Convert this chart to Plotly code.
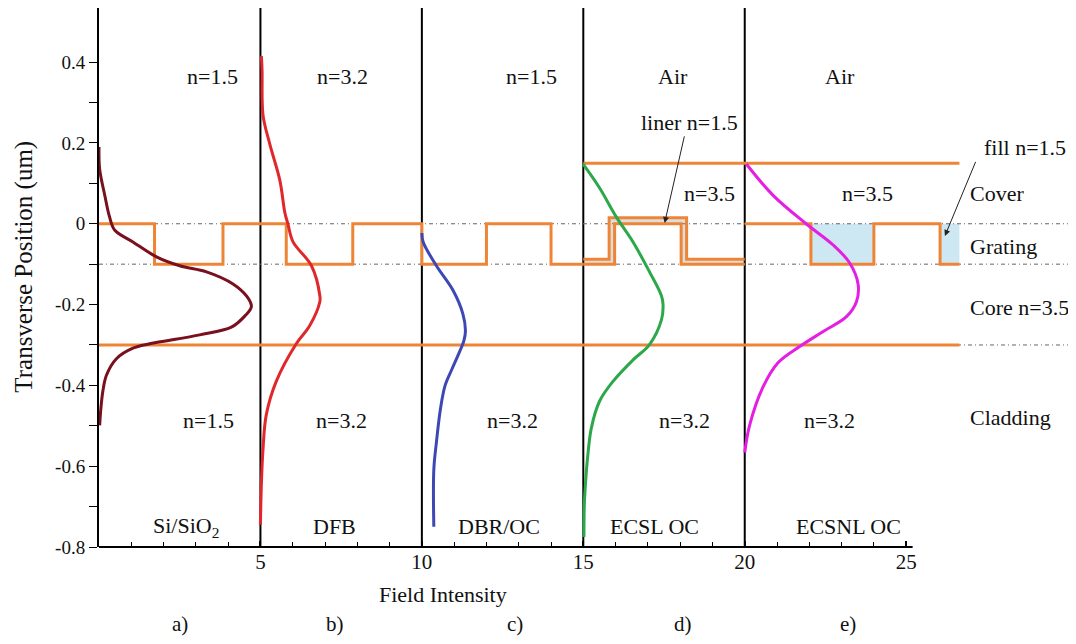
import plotly.graph_objects as go

# ---------------- data ----------------
# field intensity profiles (x = field intensity incl. panel offset, y = transverse position, um)
sisio2_x = [0.0, 0.02, 0.18, 0.33, 0.49, 1.05, 1.78, 2.5, 3.33, 4.15, 4.58, 4.72, 4.52, 4.1, 3.12, 1.57, 1.05, 0.54, 0.23, 0.12, 0.05, 0.02]
sisio2_y = [0.19, 0.135, 0.07, 0.016, -0.016, -0.045, -0.082, -0.104, -0.119, -0.149, -0.18, -0.205, -0.228, -0.256, -0.275, -0.297, -0.308, -0.334, -0.375, -0.414, -0.465, -0.499]

dfb_x = [5.03, 5.05, 5.08, 5.29, 5.6, 5.76, 5.85, 6.01, 6.58, 6.84, 6.84, 6.52, 6.11, 5.49, 5.18, 5.08, 5.03, 5.0]
dfb_y = [0.415, 0.38, 0.269, 0.197, 0.108, 0.026, 0.0, -0.045, -0.104, -0.178, -0.193, -0.253, -0.297, -0.39, -0.473, -0.558, -0.643, -0.745]

dbr_x = [10.0, 10.04, 10.45, 10.96, 11.27, 11.35, 11.3, 11.15, 10.93, 10.72, 10.58, 10.45, 10.37, 10.37]
dbr_y = [-0.023, -0.045, -0.104, -0.164, -0.223, -0.265, -0.29, -0.32, -0.36, -0.4, -0.456, -0.541, -0.609, -0.75]

ecsl_x = [14.99, 15.5, 16.02, 16.54, 17.05, 17.42, 17.47, 17.42, 17.05, 16.54, 15.92, 15.51, 15.25, 15.14, 15.07, 15.03, 15.02]
ecsl_y = [0.148, 0.089, 0.017, -0.045, -0.119, -0.178, -0.2, -0.238, -0.299, -0.337, -0.39, -0.438, -0.505, -0.573, -0.64, -0.7, -0.775]

ecsnl_x = [20.05, 20.87, 21.9, 22.73, 23.25, 23.51, 23.46, 23.15, 22.42, 21.7, 21.03, 20.56, 20.15, 20.0]
ecsnl_y = [0.148, 0.071, 0.0, -0.052, -0.097, -0.149, -0.193, -0.23, -0.267, -0.304, -0.344, -0.405, -0.499, -0.566]

# waveguide structure
panel_dividers = [5, 10, 15, 20]
grating_x = [0, 1.72, 1.72, 3.84, 3.84, 5.8, 5.8, 7.86, 7.86, 10, 10, 12.0, 12.0, 14.0, 14.0, 15]
grating_y = [0, 0, -0.1, -0.1, 0, 0, -0.1, -0.1, 0, 0, -0.1, -0.1, 0, 0, -0.1, -0.1]
ecsnl_grating_x = [20, 22.05, 22.05, 24.0, 24.0, 26.05, 26.05, 26.65]
ecsnl_grating_y = [0, 0, -0.1, -0.1, 0, 0, -0.1, -0.1]
liner_outer_x = [15, 15.8, 15.8, 18.2, 18.2, 20]
liner_outer_y = [-0.088, -0.088, 0.015, 0.015, -0.088, -0.088]
liner_inner_x = [15, 15.97, 15.97, 18.03, 18.03, 20]
liner_inner_y = [-0.1, -0.1, 0, 0, -0.1, -0.1]
fill_spans = [[22.05, 24.0], [26.05, 26.65]]
grating_top = 0.0
grating_bottom = -0.1
cover_x = [15, 26.65]
cover_y = 0.15
core_bottom_x = [0, 26.65]
core_bottom_y = -0.3
guide_levels = [0.0, -0.1, -0.3]

x_range = [0, 30.26]
y_range = [-0.8, 0.534]
x_tick_vals = [5, 10, 15, 20, 25]
x_minor_vals = [1, 2, 3, 4, 6, 7, 8, 9, 11, 12, 13, 14, 16, 17, 18, 19, 21, 22, 23, 24]
y_tick_vals = [-0.8, -0.6, -0.4, -0.2, 0, 0.2, 0.4]
y_tick_text = ["-0.8", "-0.6", "-0.4", "-0.2", "0", "0.2", "0.4"]
y_minor_vals = [-0.7, -0.5, -0.3, -0.1, 0.1, 0.3]

# ---------------- styles ----------------
SERIF = "Liberation Serif, Times New Roman, serif"
ORANGE = "#EE8536"
TXT = "#111111"

fig = go.Figure()

# fills
for x0, x1 in fill_spans:
    fig.add_trace(go.Scatter(x=[x0, x1, x1, x0, x0],
                             y=[grating_top, grating_top, grating_bottom, grating_bottom, grating_top],
                             fill="toself", fillcolor="#CDE8F2", line=dict(width=0),
                             mode="lines", hoverinfo="skip"))
fig.add_trace(go.Scatter(x=liner_outer_x + liner_inner_x[::-1],
                         y=liner_outer_y + liner_inner_y[::-1],
                         fill="toself", fillcolor="#DDDDDD", line=dict(width=0),
                         mode="lines", hoverinfo="skip"))

# panel dividers
for xd in panel_dividers:
    fig.add_trace(go.Scatter(x=[xd, xd], y=y_range, mode="lines",
                             line=dict(color="black", width=2), hoverinfo="skip"))

# guide dashed lines
for lv in guide_levels:
    fig.add_trace(go.Scatter(x=x_range, y=[lv, lv], mode="lines",
                             line=dict(color="#666666", width=1, dash="4px,3px,1px,3px"), hoverinfo="skip"))

# structure lines
fig.add_trace(go.Scatter(x=grating_x, y=grating_y, mode="lines", line=dict(color=ORANGE, width=3)))
fig.add_trace(go.Scatter(x=ecsnl_grating_x, y=ecsnl_grating_y, mode="lines", line=dict(color=ORANGE, width=3)))
fig.add_trace(go.Scatter(x=liner_outer_x, y=liner_outer_y, mode="lines", line=dict(color=ORANGE, width=3)))
fig.add_trace(go.Scatter(x=liner_inner_x, y=liner_inner_y, mode="lines", line=dict(color=ORANGE, width=3)))
fig.add_trace(go.Scatter(x=cover_x, y=[cover_y, cover_y], mode="lines", line=dict(color=ORANGE, width=3)))
fig.add_trace(go.Scatter(x=core_bottom_x, y=[core_bottom_y, core_bottom_y], mode="lines", line=dict(color=ORANGE, width=3)))

# field profiles
curves = [
    (sisio2_x, sisio2_y, "#7A0F1E"),
    (dfb_x, dfb_y, "#E0282C"),
    (dbr_x, dbr_y, "#3D48B5"),
    (ecsl_x, ecsl_y, "#2CA84B"),
    (ecsnl_x, ecsnl_y, "#E41EE2"),
]
for cx, cy, col in curves:
    fig.add_trace(go.Scatter(x=cx, y=cy, mode="lines",
                             line=dict(color=col, width=3, shape="spline", smoothing=1.0)))

# x axis line (only to 25)
fig.add_shape(type="line", xref="x", yref="paper", x0=0, x1=25.2, y0=0, y1=0,
              line=dict(color="black", width=2))

# ---------------- text ----------------
def txt(x, y, s, size=22, xanchor="center", xref="x", yref="y"):
    fig.add_annotation(x=x, y=y, text=s, showarrow=False, xref=xref, yref=yref,
                       xanchor=xanchor, yanchor="middle",
                       font=dict(family=SERIF, size=size, color=TXT))

top_labels = [(3.53, "n=1.5"), (7.55, "n=3.2"), (13.4, "n=1.5"), (17.77, "Air"), (22.94, "Air")]
for x, s in top_labels:
    txt(x, 0.365, s)
bottom_labels = [(3.38, "n=1.5"), (7.5, "n=3.2"), (12.82, "n=3.2"), (18.14, "n=3.2"), (22.63, "n=3.2")]
for x, s in bottom_labels:
    txt(x, -0.486, s)
panel_names = [(2.7, "Si/SiO<sub>2</sub>"), (7.3, "DFB"), (12.4, "DBR/OC"), (17.2, "ECSL OC"), (23.2, "ECSNL OC")]
for x, s in panel_names:
    txt(x, -0.75, s)

txt(18.91, 0.076, "n=3.5")
txt(23.8, 0.076, "n=3.5")
txt(18.3, 0.251, "liner n=1.5")
txt(28.67, 0.188, "fill n=1.5")
for y, s in [(0.076, "Cover"), (-0.056, "Grating"), (-0.208, "Core n=3.5"), (-0.48, "Cladding")]:
    txt(26.93, y, s, xanchor="left")

# arrows
fig.add_annotation(x=17.52, y=0.002, ax=18.14, ay=0.22, xref="x", yref="y", axref="x", ayref="y",
                   text="", showarrow=True, arrowhead=2, arrowsize=1.2, arrowwidth=1, arrowcolor="#222")
fig.add_annotation(x=26.2, y=-0.03, ax=27.17, ay=0.157, xref="x", yref="y", axref="x", ayref="y",
                   text="", showarrow=True, arrowhead=2, arrowsize=1.2, arrowwidth=1, arrowcolor="#222")

# axis titles and panel letters
txt(10.66, -0.089, "Field Intensity", size=22, yref="paper")
for x, s in [(2.5, "a)"), (7.3, "b)"), (12.87, "c)"), (18.1, "d)"), (23.2, "e)")]:
    txt(x, -0.142, s, size=21, yref="paper")
fig.add_annotation(x=-0.0768, y=0.52, xref="paper", yref="paper", text="Transverse Position (um)",
                   showarrow=False, textangle=-90, xanchor="center", yanchor="middle",
                   font=dict(family=SERIF, size=25, color=TXT))

# page has an 8px body margin, so the figure is sized to fit the 1076x644 window without overflow
fig.update_layout(
    width=1068, height=628,
    margin=dict(l=91, r=0, t=0, b=89),
    paper_bgcolor="white", plot_bgcolor="white",
    showlegend=False,
    xaxis=dict(range=x_range, showline=False, showgrid=False, zeroline=False,
               tickmode="array", tickvals=x_tick_vals, ticks="inside", ticklen=6,
               tickwidth=1.5, tickcolor="black",
               minor=dict(tickmode="array", tickvals=x_minor_vals, ticks="inside", ticklen=5,
                          tickwidth=1, tickcolor="black"),
               tickfont=dict(family=SERIF, size=21, color=TXT)),
    yaxis=dict(range=y_range, showline=True, linecolor="black", linewidth=2, showgrid=False,
               zeroline=False, tickmode="array", tickvals=y_tick_vals, ticktext=y_tick_text,
               ticks="outside", ticklen=8, tickcolor="black", tickwidth=1,
               minor=dict(tickmode="array", tickvals=y_minor_vals, ticks="outside", ticklen=8,
                          tickwidth=1, tickcolor="black"),
               tickfont=dict(family=SERIF, size=19, color=TXT)),
)

fig.write_html("out.html")
